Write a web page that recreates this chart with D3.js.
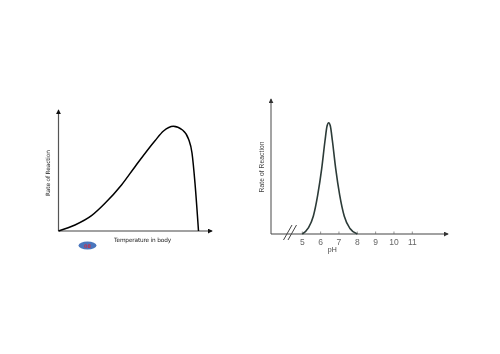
<!DOCTYPE html>
<html><head><meta charset="utf-8">
<script src="https://cdn.jsdelivr.net/npm/d3@7"></script>
<style>html,body{margin:0;background:#fff}svg{display:block;filter:blur(.4px)}</style></head>
<body><svg id="c" width="500" height="354"></svg>
<script>
const tempX=[0,16.5,33,46.5,63,76.5,96.5,105,114.8,124,130,133.5,136.5,140];
const tempRate=[0,6,15.3,27.7,46,64.3,90.3,100,104.7,101,92,78,47.7,0];
const phX=[5,5.33,5.6,5.84,6.06,6.24,6.35,6.44,6.53,6.64,6.82,7.04,7.29,7.6,8];
const phRate=[0,5.5,16,35,59,84,97,100,97,84,59,35,16,5,0];
const phTicks=[5,6,7,8,9,10,11];
const tempLabel="Temperature in body", phLabel="pH", yLabel="Rate of Reaction";
const svg=d3.select("#c");
const FONT="'DejaVu Sans',sans-serif", FONT2="'Liberation Sans',sans-serif";
svg.append("defs").selectAll("marker").data([["a","#111"],["b","#333"]]).join("marker")
 .attr("id",d=>d[0]).attr("viewBox","0 0 6 6").attr("refX",5).attr("refY",3).attr("markerWidth",5).attr("markerHeight",5).attr("markerUnits","userSpaceOnUse").attr("orient","auto")
 .append("path").attr("d","M0,0L6,3L0,6Z").attr("fill",d=>d[1]);

// left chart
const x1=d3.scaleLinear().domain([0,140]).range([58.5,198.5]);
const y1=d3.scaleLinear().domain([0,104.7]).range([231,126.3]);
const g1=svg.append("g");
g1.append("line").attr("x1",58.5).attr("y1",231).attr("x2",58.5).attr("y2",110).attr("stroke","#555").attr("stroke-width",1.2).attr("marker-end","url(#a)");
g1.append("line").attr("x1",58.5).attr("y1",231).attr("x2",212).attr("y2",231).attr("stroke","#444").attr("stroke-width",1.1).attr("marker-end","url(#a)");
g1.append("path").datum(tempX.map((v,i)=>[v,tempRate[i]])).attr("fill","none").attr("stroke","#000").attr("stroke-width",1.5)
 .attr("d",d3.line().x(d=>x1(d[0])).y(d=>y1(d[1])).curve(d3.curveMonotoneX));
g1.append("text").attr("x",142.6).attr("y",241.7).attr("text-anchor","middle").attr("font-family",FONT).attr("font-size",5.8).attr("textLength",57).attr("fill","#222").text(tempLabel);
g1.append("text").attr("transform","translate(50,173) rotate(-90)").attr("text-anchor","middle").attr("font-family",FONT).attr("font-size",5.8).attr("textLength",46).attr("fill","#222").text(yLabel);
g1.append("ellipse").attr("cx",87.5).attr("cy",245.5).attr("rx",9).attr("ry",4).attr("fill","#4a76bd");
g1.append("text").attr("x",87.5).attr("y",247.5).attr("text-anchor","middle").attr("font-family","DejaVu Sans").attr("font-size",5).attr("font-weight","bold").attr("fill","#c8304a").text("08");

// right chart
const x2=d3.scaleLinear().domain([5,11]).range([302.3,412.3]);
const y2=d3.scaleLinear().domain([0,100]).range([234,122.7]);
const g2=svg.append("g");
g2.append("line").attr("x1",271).attr("y1",234).attr("x2",271).attr("y2",99).attr("stroke","#666").attr("stroke-width",1.2).attr("marker-end","url(#b)");
g2.append("line").attr("x1",271).attr("y1",234).attr("x2",448).attr("y2",234).attr("stroke","#444").attr("stroke-width",1.1).attr("marker-end","url(#b)");
g2.selectAll(".t").data(phTicks).join("line").attr("x1",d=>x2(d)).attr("x2",d=>x2(d)).attr("y1",234).attr("y2",231.5).attr("stroke","#666").attr("stroke-width",.7);
g2.selectAll(".l").data(phTicks).join("text").attr("x",d=>x2(d)).attr("y",245).attr("text-anchor","middle").attr("font-family",FONT2).attr("font-size",8.5).attr("fill","#666").text(d=>d);
g2.append("path").attr("d","M283.5,240L292,225M288,240L296.5,225").attr("stroke","#444").attr("fill","none");
g2.append("path").datum(phX.map((v,i)=>[v,phRate[i]])).attr("fill","none").attr("stroke","#2c3b38").attr("stroke-width",1.6)
 .attr("d",d3.line().x(d=>x2(d[0])).y(d=>y2(d[1])).curve(d3.curveMonotoneX));
g2.append("text").attr("x",332.3).attr("y",252).attr("text-anchor","middle").attr("font-family",FONT2).attr("font-size",7).attr("fill","#444").text(phLabel);
g2.append("text").attr("transform","translate(264,167) rotate(-90)").attr("text-anchor","middle").attr("font-family",FONT2).attr("font-size",6.6).attr("textLength",51).attr("fill","#444").text(yLabel);
</script></body></html>
